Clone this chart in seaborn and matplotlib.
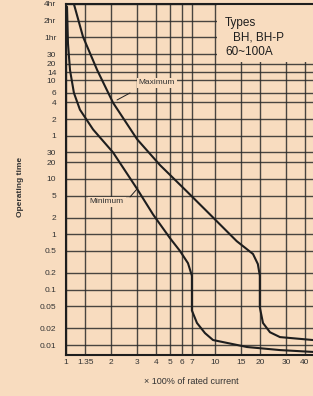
import matplotlib
matplotlib.use('Agg')
import matplotlib.pyplot as plt
from matplotlib.patches import Rectangle
import pandas as pd
import seaborn as sns

# multiples of rated current and operating time (s)
max_current = [1.13, 1.30, 1.62, 2.07, 3.00, 4.27, 6.49, 9.26, 14.0, 18.0,
               19.4, 20.0, 20.0, 21.0, 23.4, 27.3, 45.5]
max_time = [14400, 3700, 920, 237, 52, 17.8, 5.9, 2.28, 0.75, 0.44,
            0.29, 0.178, 0.048, 0.025, 0.017, 0.0139, 0.0123]

min_current = [1.016, 1.031, 1.064, 1.13, 1.24, 1.52, 2.07, 3.00, 3.84, 4.99,
               5.82, 6.59, 7.0, 7.0, 7.57, 8.57, 9.7, 16.4, 27.3, 45.5]
min_time = [12800, 2800, 920, 358, 178, 78, 30, 6.6, 2.28, 0.85,
            0.50, 0.30, 0.178, 0.042, 0.025, 0.0164, 0.0123, 0.0092, 0.0081, 0.0075]

x_ticks = [1, 1.35, 2, 3, 4, 5, 6, 7, 10, 15, 20, 30, 40]
x_labels = ['1', '1.35', '2', '3', '4', '5', '6', '7', '10', '15', '20', '30', '40']

y_ticks = [14400, 7200, 3600, 1800, 1200, 840, 600, 360, 240, 120, 60,
           30, 20, 10, 5, 2, 1, 0.5, 0.2, 0.1, 0.05, 0.02, 0.01]
y_labels = ['4hr', '2hr', '1hr', '30', '20', '14', '10', '6', '4', '2', '1',
            '30', '20', '10', '5', '2', '1', '0.5', '0.2', '0.1', '0.05', '0.02', '0.01']

BG = '#f8dcbf'
INK = '#1e1e1e'
GREY = '#333333'

sns.set_style('white')
plt.rcParams['font.family'] = ['Liberation Sans', 'DejaVu Sans']

df = pd.concat([
    pd.DataFrame({'current': max_current, 'time': max_time, 'curve': 'Maximum'}),
    pd.DataFrame({'current': min_current, 'time': min_time, 'curve': 'Minimum'}),
])

fig = plt.figure(figsize=(3.13, 3.96), dpi=100, facecolor=BG)
ax = fig.add_axes([66 / 313, 41 / 396, 1 - 66 / 313, 351 / 396])
ax.set_facecolor(BG)

sns.lineplot(data=df, x='current', y='time', units='curve', estimator=None,
             sort=False, color=INK, lw=1.5, ax=ax, zorder=3)

ax.set_xscale('log')
ax.set_yscale('log')
ax.set_xlim(1, 45.5)
ax.set_ylim(0.0066, 14400)
ax.minorticks_off()
ax.set_xticks(x_ticks)
ax.set_xticklabels(x_labels)
ax.set_yticks(y_ticks)
ax.set_yticklabels(y_labels)
ax.tick_params(length=0, labelsize=6, colors=GREY)
ax.tick_params(axis='y', pad=7)
ax.tick_params(axis='x', pad=3)
ax.grid(True, color='#2a2a2a', lw=1.0, alpha=0.85)
ax.set_axisbelow(True)
ax.set_xlabel('')
ax.set_ylabel('')

for side in ['left', 'bottom', 'top']:
    ax.spines[side].set_color(INK)
    ax.spines[side].set_linewidth(1.5)
ax.spines['right'].set_visible(False)

# blank panel behind the type designation
ax.add_patch(Rectangle((10.3, 1300), 45.5 - 10.3, 14400 - 1300,
                       facecolor=BG, edgecolor='none', zorder=1))
ax.text(11.7, 6540, 'Types', fontsize=8.5, color=INK, va='center', zorder=4)
ax.text(13.2, 3650, 'BH, BH-P', fontsize=8.5, color=INK, va='center', zorder=4)
ax.text(11.7, 1960, '60~100A', fontsize=8.5, color=INK, va='center', zorder=4)

ax.text(4.08, 540, 'Maximum', fontsize=6, color=GREY, ha='center', va='center',
        zorder=4, bbox=dict(facecolor=BG, edgecolor='none', pad=1.2))
ax.plot([2.69, 2.20], [356, 266], color=INK, lw=0.7, zorder=4)
ax.text(1.88, 3.84, 'Minimum', fontsize=6, color=GREY, ha='center', va='center',
        zorder=4, bbox=dict(facecolor=BG, edgecolor='none', pad=1.2))
ax.plot([2.69, 3.04], [4.72, 6.87], color=INK, lw=0.7, zorder=4)

fig.text(20 / 313, 1 - 187 / 396, 'Operating time', rotation=90, fontsize=6,
         fontweight='bold', color=GREY, ha='center', va='center')
fig.text(191 / 313, 1 - 382 / 396, '× 100% of rated current', fontsize=6.5,
         color=GREY, ha='center', va='center')

fig.savefig('out.png', dpi=100, facecolor=BG)
